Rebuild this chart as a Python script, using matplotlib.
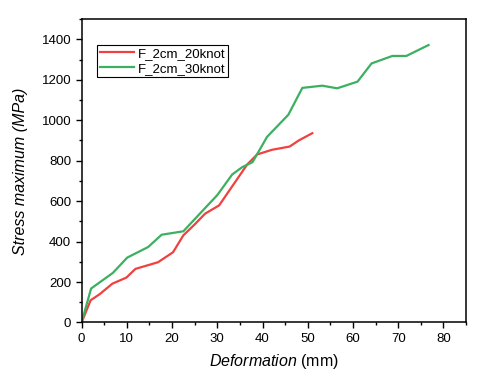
import matplotlib
matplotlib.use('Agg')
import matplotlib.pyplot as plt
from matplotlib.ticker import MultipleLocator

plt.rcParams['font.family'] = ['Liberation Sans', 'DejaVu Sans']
plt.rcParams['mathtext.fontset'] = 'custom'
plt.rcParams['mathtext.it'] = 'Liberation Sans:italic'
plt.rcParams['mathtext.rm'] = 'Liberation Sans'

# F_2cm_20knot
def_20 = [0, 2, 4, 6.8, 9.9, 11.9, 16.9, 20.2, 22.5, 25, 27.3, 30.4, 33.5, 36.6, 38.8, 42.1, 46.0, 48.0, 51.0]
stress_20 = [0, 110, 140, 192, 222, 265, 298, 347, 431, 485, 538, 579, 680, 781, 831, 854, 870, 900, 936]

# F_2cm_30knot
def_30 = [0, 2.1, 6.9, 10.1, 14.7, 17.7, 22.5, 25.8, 30, 33.3, 35.5, 37.8, 41.0, 45.7, 48.8, 53.2, 56.5, 61.0, 64.1, 68.7, 71.8, 76.7]
stress_30 = [0, 168, 245, 321, 373, 434, 451, 530, 630, 732, 768, 793, 918, 1027, 1160, 1171, 1158, 1191, 1281, 1318, 1318, 1372]

fig = plt.figure(figsize=(4.8, 3.83), dpi=100)
ax = fig.add_axes([0.170, 0.158, 0.801, 0.792])

ax.plot(def_20, stress_20, color='#F04040', lw=1.6, label='F_2cm_20knot')
ax.plot(def_30, stress_30, color='#3CB060', lw=1.6, label='F_2cm_30knot')

ax.set_xlim(0, 85)
ax.set_ylim(0, 1500)
ax.xaxis.set_major_locator(MultipleLocator(10))
ax.xaxis.set_minor_locator(MultipleLocator(5))
ax.yaxis.set_major_locator(MultipleLocator(200))
ax.yaxis.set_minor_locator(MultipleLocator(100))
ax.tick_params(which='both', direction='out', top=False, right=False, labelsize=9.5, width=1)
ax.tick_params(which='major', length=4)
ax.tick_params(which='minor', length=2.5)
for s in ax.spines.values():
    s.set_linewidth(1.1)

ax.set_xlabel(r'$\it{Deformation}$ (mm)', fontsize=11.5, labelpad=5)
ax.set_ylabel('Stress maximum (MPa)', fontsize=11.5, style='italic', labelpad=10)

leg = ax.legend(loc='upper left', bbox_to_anchor=(0.04, 0.915), fontsize=9.5,
                fancybox=False, edgecolor='black', framealpha=1,
                handlelength=2.6, borderpad=0.2, labelspacing=0.2, handletextpad=0.3,
                borderaxespad=0)
leg.get_frame().set_linewidth(0.8)

fig.savefig('out.png', dpi=100)
